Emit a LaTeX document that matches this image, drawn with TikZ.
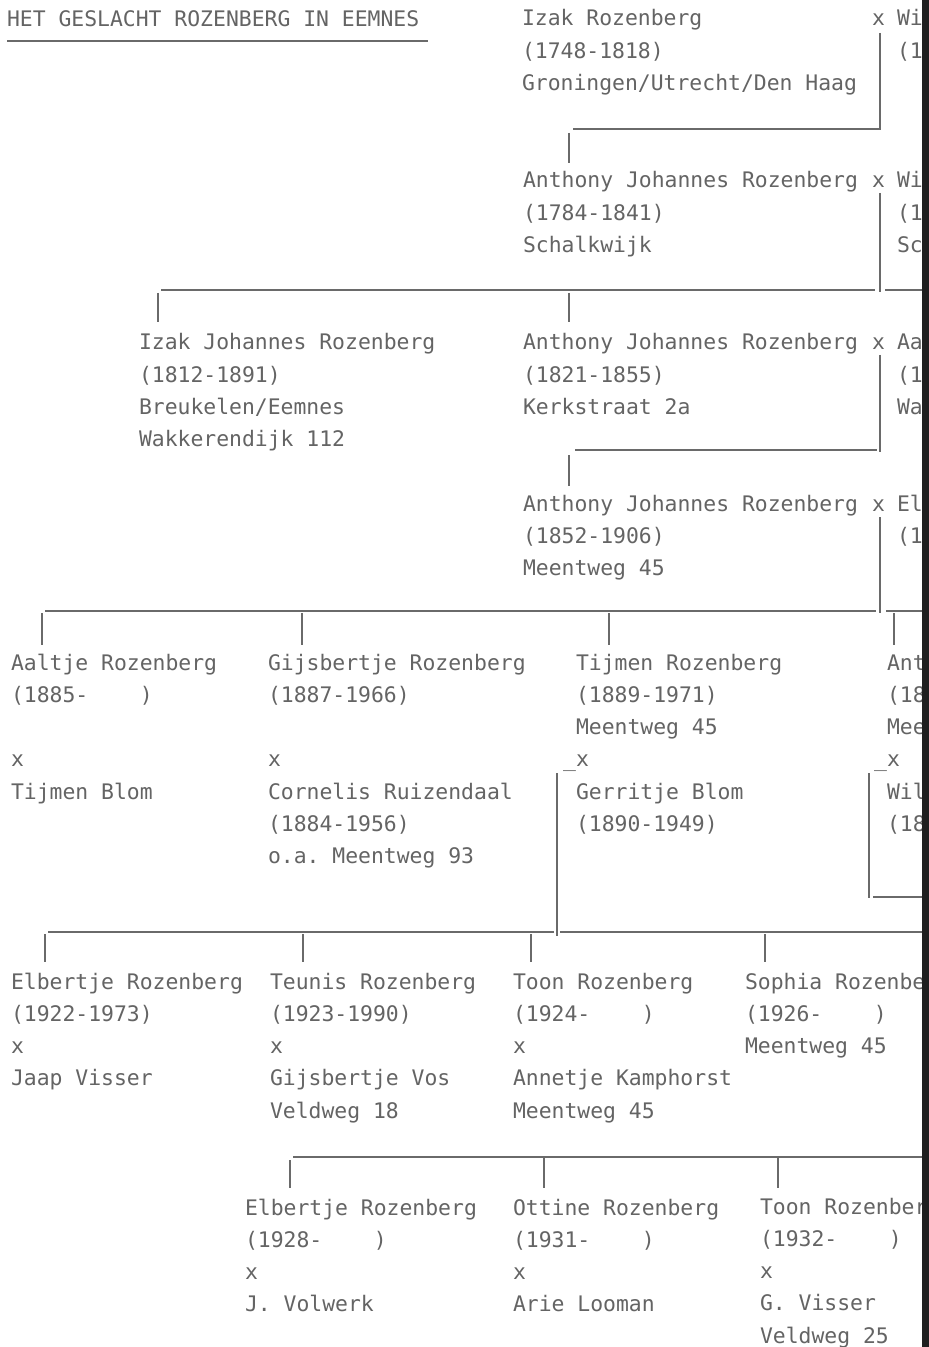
\documentclass[tikz,border=0pt]{standalone}
\usepackage{fontspec}
\setmonofont{DejaVu Sans Mono}
\definecolor{ink}{HTML}{646464}
\definecolor{rule}{HTML}{6A6A6A}
\newcommand{\gp}{\hphantom{0000}}
\newcommand{\pblock}[1]{\begin{tabular}[t]{@{}l@{}}#1\end{tabular}}
\tikzset{
  person/.style={anchor=base west, inner sep=0pt, outer sep=0pt, text=ink,
    font=\ttfamily\fontsize{10.7}{16.15}\selectfont},
  conn/.style={draw=rule, line width=0.65pt},
}
\begin{document}
\begin{tikzpicture}[x=0.5pt,y=-0.5pt]
\useasboundingbox (0,0) rectangle (929,1347);
\fill[white] (0,0) rectangle (929,1347);

% ---------- text ----------
\node[person] (title) at (7,27) {HET GESLACHT ROZENBERG IN EEMNES};
\coordinate (ulA) at (7,41); \coordinate (ulB) at (428,41);

\node[person] (izak) at (522,26) {\pblock{Izak Rozenberg\\(1748-1818)\\Groningen/Utrecht/Den Haag}};
\node[person] (x1) at (872,26) {x};
\node[person] (sp1) at (897,26) {\pblock{Wi\\(1}};

\node[person] (aj1) at (523,188) {\pblock{Anthony Johannes Rozenberg\\(1784-1841)\\Schalkwijk}};
\node[person] (x2) at (872,188) {x};
\node[person] (sp2) at (897,188) {\pblock{Wi\\(1\\Sc}};

\node[person] (ijr) at (139,350) {\pblock{Izak Johannes Rozenberg\\(1812-1891)\\Breukelen/Eemnes\\Wakkerendijk 112}};
\node[person] (aj2) at (523,350) {\pblock{Anthony Johannes Rozenberg\\(1821-1855)\\Kerkstraat 2a}};
\node[person] (x3) at (872,350) {x};
\node[person] (sp3) at (897,350) {\pblock{Aa\\(1\\Wa}};

\node[person] (aj3) at (523,511) {\pblock{Anthony Johannes Rozenberg\\(1852-1906)\\Meentweg 45}};
\node[person] (x4) at (872,511) {x};
\node[person] (sp4) at (897,511) {\pblock{El\\(1}};

\node[person] (aaltje) at (11,670) {\pblock{Aaltje Rozenberg\\(1885-\gp)\\[16.15pt]x\\Tijmen Blom}};
\node[person] (gijs) at (268,670) {\pblock{Gijsbertje Rozenberg\\(1887-1966)\\[16.15pt]x\\Cornelis Ruizendaal\\(1884-1956)\\o.a. Meentweg 93}};
\node[person] (tijmen) at (576,670) {\pblock{Tijmen Rozenberg\\(1889-1971)\\Meentweg 45\\\llap{\_}x\\Gerritje Blom\\(1890-1949)}};
\node[person] (ant) at (887,670) {\pblock{Ant\\(18\\Mee\\\llap{\_}x\\Wil\\(18}};

\node[person] (elb1) at (11,989) {\pblock{Elbertje Rozenberg\\(1922-1973)\\x\\Jaap Visser}};
\node[person] (teunis) at (270,989) {\pblock{Teunis Rozenberg\\(1923-1990)\\x\\Gijsbertje Vos\\Veldweg 18}};
\node[person] (toon1) at (513,989) {\pblock{Toon Rozenberg\\(1924-\gp)\\x\\Annetje Kamphorst\\Meentweg 45}};
\node[person] (sophia) at (745,989) {\pblock{Sophia Rozenbe\\(1926-\gp)\\Meentweg 45}};

\node[person] (elb2) at (245,1215) {\pblock{Elbertje Rozenberg\\(1928-\gp)\\x\\J. Volwerk}};
\node[person] (ottine) at (513,1215) {\pblock{Ottine Rozenberg\\(1931-\gp)\\x\\Arie Looman}};
\node[person] (toon2) at (760,1214) {\pblock{Toon Rozenber\\(1932-\gp)\\x\\G. Visser\\Veldweg 25}};

% ---------- connectors ----------
\draw[conn, line width=1pt] (ulA) -- (ulB);

% Izak x Wi -> Anthony (1784)
\coordinate (c1t) at (880,33); \coordinate (c1b) at (880,130);
\coordinate (h1a) at (573,129);
\coordinate (t1a) at (569,133); \coordinate (t1b) at (569,163);
\draw[conn] (c1t) -- (c1b);
\draw[conn] (h1a) -- (h1a -| c1b);
\draw[conn] (t1a) -- (t1b);

% Anthony (1784) x Wi -> Izak Johannes, Anthony (1821)
\coordinate (c2t) at (880,193); \coordinate (c2b) at (880,292);
\coordinate (h2a) at (161,290); \coordinate (h2b) at (875,290);
\coordinate (h2c) at (885,290); \coordinate (h2d) at (922,290);
\coordinate (t2a) at (158,293); \coordinate (t2b) at (158,322);
\coordinate (t2c) at (569,293); \coordinate (t2d) at (569,322);
\draw[conn] (c2t) -- (c2b);
\draw[conn] (h2a) -- (h2b);
\draw[conn] (h2c) -- (h2d);
\draw[conn] (t2a) -- (t2b);
\draw[conn] (t2c) -- (t2d);

% Anthony (1821) x Aa -> Anthony (1852)
\coordinate (c3t) at (880,355); \coordinate (c3b) at (880,452);
\coordinate (h3a) at (575,450); \coordinate (h3b) at (877,450);
\coordinate (t3a) at (569,455); \coordinate (t3b) at (569,486);
\draw[conn] (c3t) -- (c3b);
\draw[conn] (h3a) -- (h3b);
\draw[conn] (t3a) -- (t3b);

% Anthony (1852) x El -> children
\coordinate (c4t) at (880,517); \coordinate (c4b) at (880,613);
\coordinate (h4a) at (45,611); \coordinate (h4b) at (876,611);
\coordinate (h4c) at (886,611); \coordinate (h4d) at (922,611);
\draw[conn] (c4t) -- (c4b);
\draw[conn] (h4a) -- (h4b);
\draw[conn] (h4c) -- (h4d);
\foreach \xx/\nm in {42/a, 302/b, 609/c, 894/d}{
  \coordinate (t4\nm) at (\xx,613);
  \draw[conn] (t4\nm) -- ++(0,32);
}

% Tijmen x Gerritje -> children
\coordinate (c5t) at (557,773); \coordinate (c5b) at (557,936);
\coordinate (h5a) at (48,932); \coordinate (h5b) at (554,932);
\coordinate (h5c) at (560,932); \coordinate (h5d) at (922,932);
\draw[conn] (c5t) -- (c5b);
\draw[conn] (h5a) -- (h5b);
\draw[conn] (h5c) -- (h5d);
\foreach \xx/\nm in {45/a, 303/b, 531/c, 765/d}{
  \coordinate (t5\nm) at (\xx,934);
  \draw[conn] (t5\nm) -- ++(0,28);
}

% Ant x Wil
\coordinate (c6t) at (869,773); \coordinate (c6b) at (869,898);
\coordinate (h6a) at (873,897); \coordinate (h6b) at (922,897);
\draw[conn] (c6t) -- (c6b);
\draw[conn] (h6a) -- (h6b);

% next family -> children
\coordinate (h7a) at (293,1157); \coordinate (h7b) at (922,1157);
\draw[conn] (h7a) -- (h7b);
\coordinate (t7a) at (290,1160); \draw[conn] (t7a) -- ++(0,28);
\coordinate (t7b) at (544,1158); \draw[conn] (t7b) -- ++(0,30);
\coordinate (t7c) at (778,1158); \draw[conn] (t7c) -- ++(0,30);

% dark scan edge
\fill[black!88] (922,0) rectangle (929,1347);
\end{tikzpicture}
\end{document}
